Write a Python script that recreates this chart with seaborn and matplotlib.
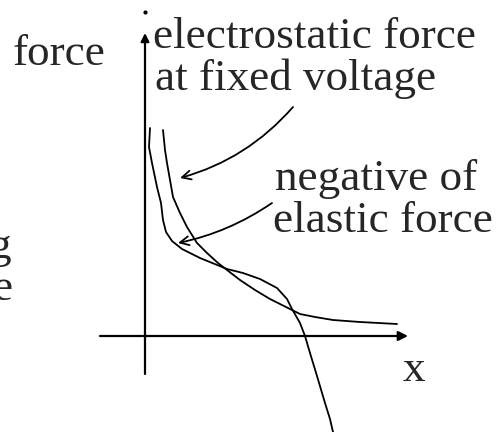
import numpy as np
import pandas as pd
import matplotlib
matplotlib.use("Agg")
import matplotlib.pyplot as plt
import seaborn as sns
from matplotlib.patches import FancyArrowPatch

# ---- data (x to the right, force upward) ----
elec_x = [0.18, 0.20, 0.22, 0.25, 0.28, 0.35, 0.42, 0.52, 0.62, 0.73, 0.82,
          0.95, 1.10, 1.25, 1.45, 1.55, 1.70, 1.88, 2.15, 2.52]
elec_y = [2.06, 1.86, 1.73, 1.56, 1.39, 1.23, 1.09, 0.93, 0.83, 0.73, 0.66,
          0.56, 0.46, 0.37, 0.27, 0.22, 0.19, 0.16, 0.14, 0.12]

elastic_x = [0.05, 0.04, 0.07, 0.12, 0.16, 0.18, 0.21, 0.27, 0.37, 0.55, 0.82,
             0.98, 1.15, 1.32, 1.42, 1.47, 1.55, 1.60, 1.65, 1.72, 1.80, 1.85, 1.88]
elastic_y = [2.08, 1.89, 1.73, 1.49, 1.33, 1.16, 1.04, 0.95, 0.87, 0.78, 0.67,
             0.63, 0.57, 0.48, 0.37, 0.27, 0.13, 0.00, -0.17, -0.40, -0.67, -0.83, -0.96]

labels = ["force", "electrostatic force", "at fixed voltage",
          "negative of", "elastic force", "x"]

df_e = pd.DataFrame({"x": elec_x, "y": elec_y})
df_n = pd.DataFrame({"x": elastic_x, "y": elastic_y})

sns.set_theme(style="white")
plt.rcParams["font.family"] = ["Liberation Serif", "DejaVu Serif"]

fig = plt.figure(figsize=(5.01, 4.32), dpi=100)
ax = fig.add_axes([0, 0, 1, 1])
ax.set_xlim(-1.45, 3.56)
ax.set_ylim(-0.96, 3.36)
ax.axis("off")

sns.lineplot(data=df_e, x="x", y="y", sort=False, estimator=None,
             color="black", lw=1.3, ax=ax)
sns.lineplot(data=df_n, x="x", y="y", sort=False, estimator=None,
             color="black", lw=1.3, ax=ax)

# axes with arrowheads
ax.add_patch(FancyArrowPatch((0.0, -0.38), (0.0, 3.03), arrowstyle="-|>",
                             mutation_scale=12, color="black", lw=1.6,
                             shrinkA=0, shrinkB=0))
ax.add_patch(FancyArrowPatch((-0.45, 0.0), (2.63, 0.0), arrowstyle="-|>",
                             mutation_scale=14, color="black", lw=1.6,
                             shrinkA=0, shrinkB=0))
ax.plot([0.0], [3.24], marker="o", ms=2, color="black")

# annotation arrows
ax.add_patch(FancyArrowPatch((1.48, 2.29), (0.35, 1.58), arrowstyle="->",
                             connectionstyle="arc3,rad=-0.15",
                             mutation_scale=16, color="black", lw=1.3,
                             shrinkA=0, shrinkB=0))
ax.add_patch(FancyArrowPatch((1.27, 1.33), (0.33, 0.93), arrowstyle="->",
                             connectionstyle="arc3,rad=-0.1",
                             mutation_scale=16, color="black", lw=1.3,
                             shrinkA=0, shrinkB=0))

fs = 32.5
ax.text(-1.32, 2.71, labels[0], fontsize=fs, ha="left", va="baseline")
ax.text(0.08, 2.88, labels[1], fontsize=fs, ha="left", va="baseline")
ax.text(0.10, 2.46, labels[2], fontsize=fs, ha="left", va="baseline")
ax.text(1.30, 1.46, labels[3], fontsize=fs, ha="left", va="baseline")
ax.text(1.28, 1.04, labels[4], fontsize=fs, ha="left", va="baseline")
ax.text(2.58, -0.45, labels[5], fontsize=fs, ha="left", va="baseline")

# clipped fragments at the left edge
ax.text(-1.56, 0.78, "g", fontsize=fs, ha="left", va="baseline")
ax.text(-1.53, 0.36, "e", fontsize=fs, ha="left", va="baseline")

fig.savefig("out.png", dpi=100)
